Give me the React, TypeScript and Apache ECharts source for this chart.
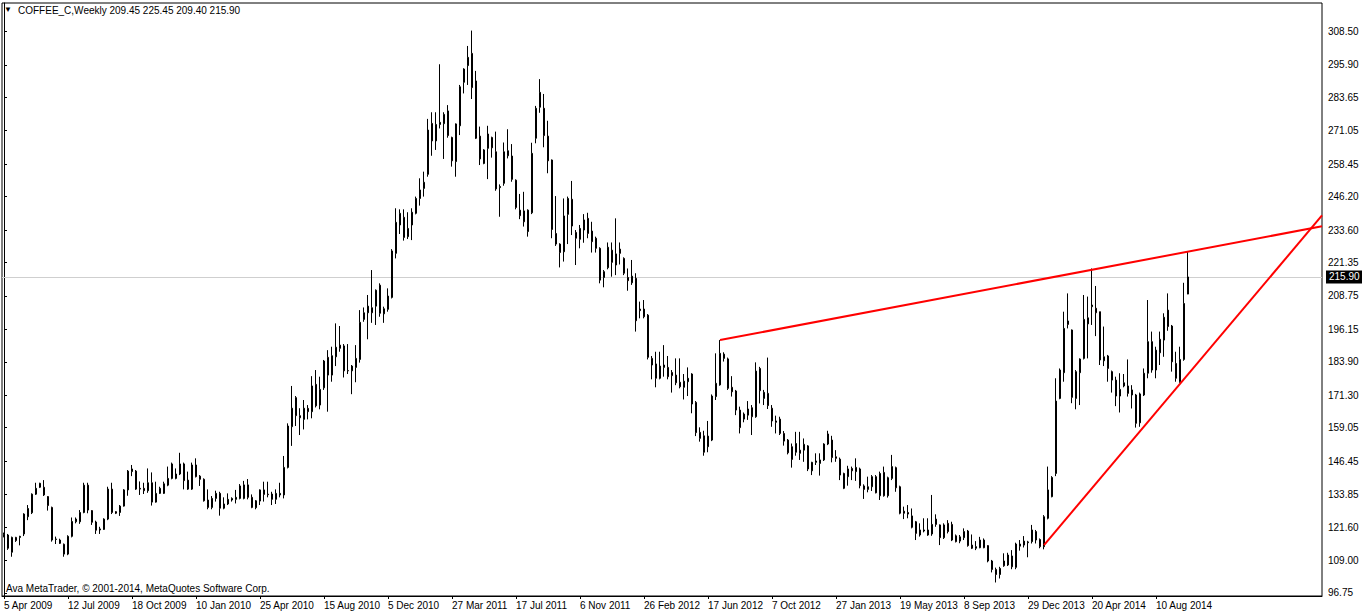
import React, { useEffect, useRef } from "react";
import * as echarts from "echarts";

// Weekly candles, each row: [open, high, low, close]
const candles: number[][] = [
  [118.2, 119.5, 117.7, 118.9], [118.6, 119, 113, 113.6], [112.1, 118, 110.4, 117.7], [117.7, 117.9, 116, 116.5],
  [117.7, 118.3, 114.7, 118.1], [119, 126.8, 118.2, 126.5], [125.5, 129.9, 124.2, 128.6], [127, 134.3, 126.5, 134],
  [134, 138.3, 133.7, 136.2], [136.6, 138.3, 136.3, 138.1], [136.6, 139.3, 133.3, 133.7], [133.1, 133.3, 127.8, 129.7],
  [129, 129.3, 116.1, 116.7], [116.9, 118, 115.2, 117.1], [116.7, 117.2, 115.2, 115.45], [115.1, 115.4, 110.4, 111.4],
  [111.4, 118.5, 111, 118.1], [118.1, 125.2, 117.7, 123.7], [123.6, 125.2, 123, 124.6], [123.6, 128, 122.8, 127.1],
  [127.1, 138.3, 126.8, 137.4], [137.4, 138.3, 126.8, 128], [127.8, 128, 122.4, 123.4], [123.5, 124, 119, 120.4],
  [120.5, 121.7, 119, 120.9], [120.7, 124.9, 120.5, 124.6], [124.6, 136.8, 124.2, 135.9], [135.9, 138.3, 126.5, 127.1],
  [127.4, 127.6, 126.5, 126.8], [127.1, 129.9, 125.8, 129.5], [129.5, 135.9, 129.3, 135.6], [135.6, 143.1, 133.4, 142.7],
  [142.5, 145, 140.8, 143.5], [142.7, 143.1, 135.6, 135.9], [136.2, 138.8, 133.7, 135.9], [136.2, 138.3, 134.05, 135.3],
  [135.3, 143.7, 134.5, 138.3], [138.3, 142.2, 129.7, 131], [131, 138.7, 130.8, 134.3], [134.3, 136.8, 134.05, 136.2],
  [134.3, 138.7, 134.05, 137.9], [137.4, 144.4, 137, 139.95], [139.95, 145.9, 139.6, 145.4], [139.95, 143.7, 139.6, 141.6],
  [141.6, 149.6, 141.2, 145.4], [145.4, 145.9, 135.8, 139.1], [139.3, 142.5, 135.6, 135.9], [135.9, 145.9, 135.6, 145],
  [145, 147.5, 140.3, 140.6], [140.8, 141.2, 137.1, 139.6], [139.6, 139.95, 131.2, 131.5], [131.8, 135.8, 128.3, 129],
  [129, 133.3, 128.3, 132.4], [132.4, 135.3, 131.2, 134.3], [134.3, 134.9, 125.9, 128.7], [128.7, 132.8, 128.3, 130.3],
  [130.3, 134.3, 129.9, 132.05], [131.8, 132.8, 131.2, 132.4], [132.05, 135.6, 130.5, 132.8], [132.4, 137.8, 132.05, 137.1],
  [132.4, 139, 132.05, 137.5], [137.5, 139.7, 132.05, 132.8], [132.8, 133.9, 128.7, 129], [128.9, 131.8, 128.3, 131.5],
  [131.4, 135.8, 129.9, 135.6], [135.6, 138.7, 131.2, 133.9], [134, 138.7, 132.8, 133.8], [134.05, 134.9, 129.9, 132.05],
  [132.05, 135.8, 130.3, 134.3], [133.7, 138.3, 132.8, 134.3], [133.7, 148.4, 132.4, 144.1], [144.1, 160.7, 143.7, 159.7],
  [159.45, 174.8, 152.2, 166.4], [170.4, 171, 159.7, 163.6], [163.6, 166.4, 156.3, 162.8], [162.2, 169.5, 158.4, 166.4],
  [166.35, 167.6, 162.2, 165.1], [165.1, 178.5, 162.6, 174.8], [175.4, 180.8, 166.7, 167.3], [167.6, 178.3, 166, 173.5],
  [174.1, 184.6, 173.3, 184.2], [185.6, 188.3, 165.1, 178.9], [178.9, 189.6, 176.4, 186.2], [185.8, 198.4, 182.3, 189.4],
  [190.2, 197.4, 187.7, 189], [189.9, 190.6, 178, 180.5], [180.6, 190.6, 179.3, 180.5], [180.5, 182.7, 171.7, 182.3],
  [181.8, 190.2, 176.2, 185.2], [184.8, 203.4, 183.6, 198.8], [199.9, 204.4, 199, 202.4], [202.4, 209.1, 192.4, 204.9],
  [204.3, 218.5, 198.6, 202.4], [204.9, 211.2, 197.8, 210.9], [212.8, 213.5, 200.9, 202.2], [202, 204.7, 198.6, 203.9],
  [203.7, 211.6, 202.8, 208.7], [208.2, 226.4, 207.8, 225.7], [224.8, 241.8, 222.9, 236.5], [235.5, 241.4, 232.1, 239.9],
  [238.4, 241.4, 229.6, 230.8], [231.1, 240.3, 230.2, 234.2], [235.5, 241.8, 229.8, 240.3], [239.9, 246.2, 239.5, 245.5],
  [245.5, 253.1, 242.8, 248.7], [249.3, 255.6, 246.2, 251.6], [254.6, 275.5, 253.7, 271.3], [273.8, 278, 261.6, 267.2],
  [267.2, 278, 263.8, 273.4], [273.4, 296.1, 271.9, 274.2], [273.7, 278, 260.4, 277.2], [278.5, 280.7, 268.4, 269.2],
  [268.5, 268.8, 257.5, 259.7], [259.4, 273.8, 253.7, 273.6], [272.9, 288.3, 269.4, 287.6], [289.3, 294.6, 285.1, 294.3],
  [295.6, 303, 288.3, 298.7], [300.2, 308.8, 283, 287.3], [289.8, 293.6, 267.9, 268.2], [269, 272.6, 258.1, 260.4],
  [258.7, 264.1, 258.4, 263.8], [264.4, 272.9, 252.8, 269.8], [268.5, 268.8, 260.9, 264.6], [263.1, 270.7, 248.4, 249.1],
  [249.6, 250.8, 238.6, 250], [251.2, 266.6, 250.3, 263.1], [261.6, 271.6, 260.6, 263.5], [261.5, 266, 251.8, 252.7],
  [252.4, 252.7, 241.4, 242.1], [241.1, 247.2, 237.7, 239], [240.8, 248, 234.9, 236.7], [233, 241.4, 231.1, 241.1],
  [240.1, 266.5, 239.6, 262.5], [268.2, 280.4, 266.3, 279.5], [279.9, 290.5, 277.8, 285.5], [279.5, 284.9, 264.8, 269.2],
  [269, 274.8, 255, 259.7], [260, 260.2, 230.5, 233.8], [232.3, 246.4, 227.6, 228.3], [228.3, 228.6, 219.5, 225.1],
  [225.4, 245.5, 221.7, 238.9], [239.5, 246.2, 228.3, 245.5], [245.2, 252.1, 231.7, 235.1], [232.7, 233.6, 220.4, 230.5],
  [230.1, 235.5, 226.7, 234.2], [233.6, 239.6, 228.8, 237.4], [238, 240.1, 230.5, 232.3], [233.2, 236.7, 225.1, 229.2],
  [230.5, 231.1, 225.1, 226.7], [226.7, 227.1, 213.5, 214.7], [215.7, 218.5, 212, 217.9], [219.4, 228.9, 218.8, 227.1],
  [226, 228.9, 216, 221.4], [220.4, 238, 216.6, 224.6], [226.4, 228.9, 220.6, 224.8], [222.9, 223.3, 216.6, 217.3],
  [215.7, 219.1, 210.7, 214.5], [213.7, 222.3, 212.9, 216.2], [215.4, 217.3, 195.3, 199.4], [203.8, 206.6, 200.3, 203.2],
  [203.8, 207.2, 200.3, 200.9], [201.5, 201.9, 184.8, 185.6], [185.2, 186.1, 177.3, 182.7], [183.1, 187.7, 174.3, 177.7],
  [177.7, 187.7, 177.3, 182.3], [181.8, 190.2, 178.3, 182.7], [181.8, 186.1, 177.3, 178.3], [179.9, 180.8, 172.3, 178.7],
  [178.9, 185.2, 175.1, 176], [176.2, 185.2, 173.9, 174.5], [174.3, 179.3, 169.7, 176.6], [176.4, 181.8, 171, 177.7],
  [179.3, 179.6, 164.5, 168], [168.6, 169.1, 155.9, 157.2], [157.3, 159.2, 153.8, 155.04], [156, 157.9, 148.5, 149.8],
  [151.9, 161.6, 149.8, 155.9], [154.4, 171.6, 154, 171], [170.8, 187.1, 169.5, 175.8], [175.2, 192.1, 174.9, 187.1],
  [185.2, 187.5, 184, 186.8], [185, 185.5, 173.3, 173.9], [174.3, 178.5, 170.8, 172.6], [172.9, 173.3, 163.8, 165.7],
  [165.7, 167, 156.9, 159.1], [164.2, 164.8, 161.1, 162.3], [163.8, 169.1, 162, 166.1], [166.6, 167.6, 156.3, 163.2],
  [163.2, 183.7, 162.8, 180.4], [181.4, 182, 168.2, 173], [170.1, 173.3, 167.6, 172.4], [172, 185.5, 166.1, 167.4],
  [166.4, 167.6, 159.4, 161.6], [161.6, 163.6, 156.9, 161.1], [162.3, 163.2, 156.3, 156.9], [156.9, 157.8, 152.3, 154],
  [154.4, 154.8, 149, 149.6], [151.9, 153.1, 144, 147.1], [149.8, 157.5, 148.5, 153.1], [150.6, 157.5, 146.9, 149.4],
  [150.6, 155, 146.2, 152.8], [152.2, 152.5, 142.7, 143.5], [142.8, 146.2, 141.2, 146], [146, 149.4, 145, 146.5],
  [145.6, 149.4, 141, 146.9], [146.9, 153.2, 146.5, 152.9], [152.9, 157.9, 152.5, 156.7], [154.4, 156, 146, 147.8],
  [148.1, 150.6, 146.2, 147.5], [147.2, 147.8, 139.3, 141.2], [141.8, 142.1, 135.9, 136.2], [140.6, 144.7, 137.2, 143.5],
  [143.7, 144.4, 139.3, 142.8], [142.5, 147.5, 139, 144.1], [143.5, 144, 136.2, 137.2], [137.1, 137.7, 132.2, 135.8],
  [135.8, 140.6, 134.7, 136.8], [136.8, 141.2, 135.2, 140.6], [140.6, 141.2, 134.3, 134.5], [133.4, 142.5, 131.8, 141.8],
  [142.2, 144.4, 133.05, 133.4], [133.4, 140.6, 132.7, 140.2], [139.95, 148.8, 139.3, 144.4], [144, 144.4, 134.9, 136.4],
  [136.8, 137.2, 126.4, 126.8], [127.6, 129.3, 124.6, 126.8], [127.1, 129.9, 124.9, 126.5], [125.8, 128.6, 121.1, 121.5],
  [123.6, 123.9, 116.7, 119.2], [118.6, 123, 118, 120.5], [120.5, 124.9, 119.6, 120.1], [120.5, 124.9, 118.3, 118.6],
  [119, 133.7, 118.3, 122.6], [124.6, 126.4, 121.7, 122.6], [122.4, 122.6, 114.8, 117.6], [117.6, 123, 117.1, 122.4],
  [123, 124.2, 119.2, 119.9], [122.6, 123.6, 116.3, 116.7], [118.3, 118.8, 115.8, 116.1], [116.3, 118.6, 115.5, 117.9],
  [117.6, 121.1, 116.7, 119.9], [120.1, 120.5, 114.2, 114.6], [114.8, 118.8, 113.3, 113.6], [113.6, 116.3, 112.9, 114.2],
  [113.8, 117.9, 113.6, 116.7], [116.7, 117.3, 113.6, 113.8], [114.6, 114.8, 108.3, 108.8], [108.8, 109.2, 104.5, 105.6],
  [105.6, 106.3, 100.7, 103.7], [103.7, 106.6, 102.2, 106], [108.8, 111.7, 106.6, 107], [107.3, 111.9, 106.9, 111.05],
  [110.7, 112.9, 105.7, 106.6], [106.4, 115.7, 105.7, 115.2], [114.4, 116.7, 112.7, 115.2], [114.8, 118.2, 113.9, 116.3],
  [115.7, 116.4, 110.2, 116], [116.1, 122.4, 115.4, 120.5], [119.9, 120.5, 115.4, 116.7], [116.9, 117.3, 113.6, 114.2],
  [114.2, 126.1, 113.2, 125.5], [124.9, 144.4, 124.5, 135.6], [133.05, 140.8, 132.8, 140.3], [141.8, 177.7, 140.8, 169.1],
  [170.1, 181.4, 169.8, 180.8], [179.8, 202.8, 176.4, 196.5], [199.3, 209.7, 196.5, 198], [195.9, 196.1, 168.3, 170.5],
  [170.1, 180.8, 166, 180.2], [179.8, 185.2, 167.6, 184.96], [185.2, 209.1, 184.8, 199.9], [198.2, 208.5, 185.2, 200.5],
  [204.7, 219.1, 197.8, 205.3], [204.1, 212.5, 193.6, 202.4], [202.8, 202.8, 182.7, 184.6], [184.3, 197.2, 182.3, 185.8],
  [186.1, 186.5, 176.4, 181.4], [180.2, 180.6, 172.3, 177], [177, 178.3, 167.2, 171], [171, 179.6, 164.8, 173.5],
  [174.8, 179.3, 174.3, 176], [174.8, 184.8, 170.8, 172], [171.4, 175.1, 166.3, 173.3], [171.4, 171.8, 159.1, 160.7],
  [160.9, 172.3, 159.4, 171.8], [171.4, 181.4, 171, 179.6], [179.6, 207.2, 177.7, 191.5], [191.5, 195.3, 179.8, 180.8],
  [180.8, 189.6, 177.7, 188.3], [192.4, 195.3, 182.7, 187.3], [192.1, 202.2, 185.8, 200.7], [203.4, 209.7, 195.6, 197.2],
  [197.4, 197.8, 180.2, 183.9], [183.3, 187.7, 176.4, 177.7], [176.4, 189.6, 176, 184.8], [184.8, 213.7, 184.3, 205.9],
  [209.45, 225.45, 209.4, 215.9],
];

// one label every 16 bars
const timeLabels = [
  "5 Apr 2009", "12 Jul 2009", "18 Oct 2009", "10 Jan 2010", "25 Apr 2010", "15 Aug 2010", "5 Dec 2010",
  "27 Mar 2011", "17 Jul 2011", "6 Nov 2011", "26 Feb 2012", "17 Jun 2012", "7 Oct 2012", "27 Jan 2013",
  "19 May 2013", "8 Sep 2013", "29 Dec 2013", "20 Apr 2014", "10 Aug 2014",
];
const labelStep = 16;

const priceTicks = [
  96.75, 109.0, 121.6, 133.85, 146.45, 159.05, 171.3, 183.9, 196.15, 208.75,
  221.35, 233.6, 246.2, 258.45, 271.05, 283.65, 295.9, 308.5,
];

const lastPrice = 215.9;
const upperTrend = [[179, 192.1], [296, 225.45]];
const lowerTrend = [[260, 114.8], [294, 175.6]];
const totalSlots = 330;
const yMin = 95.6;
const yMax = 319.2;

const FONT = '"Liberation Sans", Arial, sans-serif';

function extend(points: number[][], toX: number): number[][] {
  const [a, b] = points;
  const slope = (b[1] - a[1]) / (b[0] - a[0]);
  return [a, [toX, b[1] + (toX - b[0]) * slope]];
}

export default function App() {
  const ref = useRef<HTMLDivElement>(null);
  useEffect(() => {
    if (!ref.current) return;
    const chart = echarts.init(ref.current, null, { renderer: "svg" });
    const cats = Array.from({ length: totalSlots }, (_, i) => String(i));
    const data = candles.map(([o, h, l, c]) => [o, c, l, h]);
    const isLabel = (i: number) => i % labelStep === 0 && i / labelStep < timeLabels.length;
    const edgeX = totalSlots - 0.5;
    chart.setOption({
      animation: false,
      backgroundColor: "#ffffff",
      grid: {
        left: 2, right: 40, top: 3, bottom: 18,
        show: true, borderColor: "#000", borderWidth: 1, backgroundColor: "transparent",
      },
      xAxis: [
        {
          type: "category",
          data: cats,
          boundaryGap: true,
          axisLine: { show: true, lineStyle: { color: "#000" } },
          axisTick: { show: true, alignWithLabel: true, interval: (i: number) => isLabel(i), length: 3, lineStyle: { color: "#000" } },
          axisLabel: {
            interval: (i: number) => isLabel(i),
            formatter: (_v: string, i: number) => timeLabels[i / labelStep] ?? "",
            align: "left",
            margin: 4,
            color: "#000",
            fontFamily: FONT,
            fontSize: 10,
          },
          splitLine: { show: false },
        },
        { type: "value", min: -0.5, max: edgeX, show: false },
      ],
      yAxis: {
        type: "value",
        position: "right",
        min: yMin,
        max: yMax,
        axisLine: { show: true, lineStyle: { color: "#000" } },
        axisTick: { show: true, customValues: priceTicks, length: 3, lineStyle: { color: "#000" } },
        axisLabel: {
          customValues: priceTicks,
          formatter: (v: number) => v.toFixed(2),
          color: "#000",
          fontFamily: FONT,
          fontSize: 10,
          margin: 6,
        },
        splitLine: { show: false },
      },
      series: [
        {
          type: "candlestick",
          xAxisIndex: 0,
          data,
          barWidth: 2,
          itemStyle: {
            color: "#1a7f1a",
            color0: "#d81010",
            borderColor: "#000",
            borderColor0: "#000",
            borderWidth: 1,
          },
          markLine: {
            silent: true,
            symbol: ["none", "none"],
            lineStyle: { color: "#cfcfcf", width: 1, type: "solid" },
            label: {
              show: true,
              position: "end",
              formatter: () => lastPrice.toFixed(2),
              backgroundColor: "#000",
              color: "#fff",
              fontFamily: FONT,
              fontSize: 10,
              padding: [2, 3, 1, 3],
              distance: 4,
            },
            data: [{ yAxis: lastPrice }],
            z: 1,
          },
        },
        {
          type: "line",
          xAxisIndex: 1,
          data: extend(upperTrend, edgeX),
          symbol: "none",
          lineStyle: { color: "#ff0000", width: 2 },
          z: 5,
        },
        {
          type: "line",
          xAxisIndex: 1,
          data: extend(lowerTrend, edgeX),
          symbol: "none",
          lineStyle: { color: "#ff0000", width: 2 },
          z: 5,
        },
      ],
      graphic: [
        { type: "text", left: 4, top: 5, style: { text: "▼", fontSize: 8, fill: "#000", fontFamily: FONT } },
        {
          type: "text", left: 18, top: 5,
          style: { text: "COFFEE_C,Weekly 209.45 225.45 209.40 215.90", fontSize: 10, fill: "#000", fontFamily: FONT },
        },
        {
          type: "text", left: 6, top: 583,
          style: { text: "Ava MetaTrader, © 2001-2014, MetaQuotes Software Corp.", fontSize: 10, fill: "#000", fontFamily: FONT },
        },
      ],
    });
    return () => chart.dispose();
  }, []);
  return <div ref={ref} style={{ position: "absolute", left: 0, top: 0, width: 1362, height: 614, background: "#fff" }} />;
}
